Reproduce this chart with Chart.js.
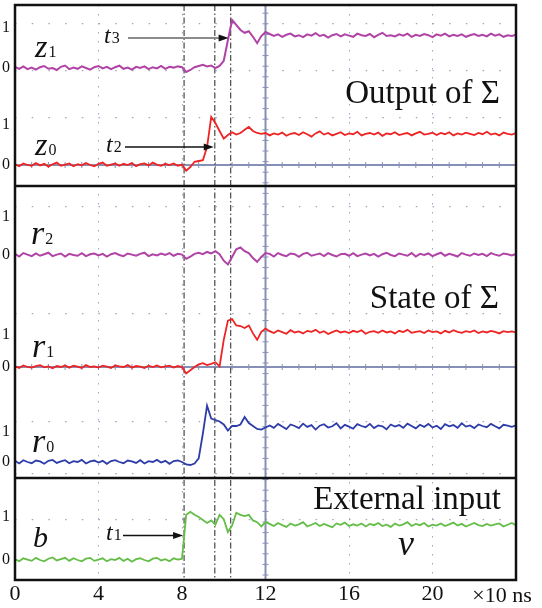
<!DOCTYPE html>
<html>
<head>
<meta charset="utf-8">
<script src="https://cdn.jsdelivr.net/npm/chart.js@4.4.0/dist/chart.umd.min.js"></script>
<style>
  html, body { margin: 0; padding: 0; background: #fff; }
</style>
</head>
<body>
<canvas id="scope" width="542" height="608"></canvas>
<script>
// sample step of the scope traces (x10 ns)
const dt = 0.2;
const xTickVals = [0, 4, 8, 12, 16, 20];
const xUnit = '×10 ns';
// event times t1, t2, t3
const tMarks = [8.1, 9.57, 10.33];
const levelText = ['0', '1'];

// traces, in units of the "1" level
const z1 = [
  0.03,-0.02,0.04,-0.03,0.01,-0.04,0.02,0.05,-0.02,0.00,
  -0.05,0.03,0.06,-0.03,0.01,-0.02,0.04,0.00,-0.04,0.02,
  0.05,-0.01,0.03,-0.03,0.02,0.06,-0.02,0.01,-0.04,0.03,
  0.00,0.04,-0.03,0.02,-0.01,0.05,-0.02,0.03,0.01,0.04,
  0.02,
  -0.10,-0.05,0.02,0.05,0.08,0.04,0.06,0.00,0.05,0.18,
  0.70,1.20,1.08,0.95,0.88,0.92,0.78,0.62,0.80,0.90,
  0.85,0.80,0.84,0.78,0.83,0.86,0.79,0.82,0.77,0.84,
  0.81,0.87,0.80,0.83,0.76,0.82,0.85,0.79,0.84,0.81,
  0.78,0.86,0.82,0.80,0.85,0.77,0.83,0.88,0.80,0.82,
  0.79,0.84,0.81,0.86,0.78,0.83,0.80,0.85,0.82,0.77,
  0.84,0.81,0.86,0.79,0.83,0.80,0.84,0.78,0.82,0.85,
  0.80,0.83,0.79,0.86,0.81,0.84,0.78,0.82,0.80,0.83
];
const z0 = [
  0.02,-0.03,0.04,0.00,-0.02,0.05,-0.01,0.03,-0.04,0.02,
  0.06,-0.02,0.01,0.04,-0.03,0.02,-0.01,0.05,0.00,-0.03,
  0.03,0.06,-0.02,0.01,0.04,-0.02,0.03,0.00,0.05,-0.03,
  0.02,0.04,-0.01,0.06,0.01,-0.02,0.03,0.00,0.04,-0.02,
  0.01,
  -0.14,-0.05,0.08,0.10,0.12,0.45,1.20,1.05,0.85,0.66,
  0.75,0.82,0.76,0.80,0.88,0.95,0.85,0.80,0.78,0.80,
  0.74,0.79,0.76,0.81,0.73,0.78,0.80,0.75,0.82,0.77,
  0.71,0.79,0.84,0.76,0.80,0.74,0.78,0.82,0.75,0.79,
  0.77,0.83,0.74,0.78,0.80,0.76,0.81,0.73,0.79,0.77,
  0.82,0.75,0.78,0.80,0.74,0.79,0.83,0.76,0.78,0.81,
  0.75,0.80,0.77,0.82,0.74,0.79,0.76,0.81,0.78,0.75,
  0.80,0.77,0.83,0.76,0.79,0.74,0.81,0.78,0.76,0.80
];
const r2 = [
  0.03,-0.04,0.05,0.01,-0.03,0.04,-0.02,0.02,0.06,-0.03,
  0.01,0.04,-0.04,0.03,0.00,-0.02,0.05,-0.03,0.02,0.04,
  -0.01,0.03,-0.04,0.02,0.05,0.00,-0.03,0.04,0.01,-0.02,
  0.03,0.06,-0.03,0.02,-0.01,0.04,0.00,0.05,-0.02,0.03,
  0.01,
  -0.10,-0.04,0.03,0.06,0.02,0.08,0.04,0.10,0.02,-0.15,
  -0.25,-0.05,0.15,0.20,0.10,0.05,-0.08,-0.18,-0.05,0.05,
  0.03,-0.04,0.05,0.00,-0.03,0.04,0.02,-0.05,0.03,0.06,
  -0.02,0.01,0.04,-0.03,0.05,0.00,-0.04,0.02,0.03,-0.02,
  0.05,-0.03,0.01,0.04,-0.01,0.03,-0.04,0.02,0.06,0.00,
  -0.03,0.04,0.01,-0.02,0.05,-0.04,0.03,0.00,0.04,-0.03,
  0.02,0.06,-0.02,0.03,0.00,-0.04,0.05,0.01,-0.02,0.04,
  0.00,0.03,-0.03,0.05,0.01,-0.02,0.04,0.02,-0.01,0.03
];
const r1 = [
  0.02,-0.03,0.05,0.00,-0.02,0.03,0.06,-0.01,0.02,-0.04,
  0.03,0.00,0.05,-0.02,0.04,0.01,-0.03,0.06,0.00,0.02,
  -0.02,0.04,0.01,-0.03,0.05,0.02,0.00,0.06,-0.02,0.03,
  0.01,-0.03,0.04,0.00,0.05,-0.01,0.02,0.04,-0.02,0.03,
  0.00,
  -0.20,-0.10,0.00,0.08,0.12,0.06,0.10,0.15,0.02,0.85,
  1.45,1.50,1.30,1.28,1.22,1.30,1.05,0.85,1.10,1.20,
  1.12,1.06,1.14,1.09,1.04,1.15,1.08,1.11,1.05,1.13,
  1.10,1.16,1.07,1.12,1.03,1.09,1.14,1.08,1.11,1.06,
  1.13,1.09,1.15,1.04,1.10,1.12,1.07,1.14,1.08,1.11,
  1.05,1.13,1.09,1.16,1.07,1.10,1.12,1.06,1.14,1.09,
  1.11,1.05,1.13,1.08,1.15,1.10,1.07,1.12,1.09,1.14,
  1.06,1.11,1.08,1.13,1.10,1.05,1.12,1.09,1.11,1.08
];
const r0 = [
  0.04,-0.05,0.06,0.00,-0.04,0.05,0.02,-0.06,0.04,0.07,
  -0.03,0.02,0.06,-0.04,0.03,0.00,0.07,-0.05,0.02,0.05,
  -0.02,0.04,-0.06,0.03,0.06,0.00,-0.04,0.05,0.02,-0.03,
  0.06,-0.05,0.03,0.00,0.07,-0.02,0.04,-0.06,0.03,0.05,
  0.00,
  -0.08,-0.10,-0.05,0.12,0.95,1.88,1.45,1.40,1.35,1.25,
  1.05,1.20,1.20,1.25,1.50,1.30,1.20,1.10,1.08,1.15,
  1.22,1.14,1.27,1.18,1.10,1.25,1.20,1.13,1.28,1.17,
  1.23,1.08,1.21,1.26,1.15,1.19,1.29,1.12,1.24,1.18,
  1.11,1.26,1.20,1.16,1.27,1.13,1.22,1.19,1.09,1.25,
  1.18,1.23,1.14,1.28,1.20,1.12,1.24,1.17,1.27,1.15,
  1.21,1.10,1.26,1.19,1.23,1.14,1.29,1.18,1.22,1.13,
  1.25,1.20,1.16,1.27,1.19,1.12,1.24,1.21,1.17,1.22
];
const b = [
  0.02,-0.03,0.04,0.01,-0.02,0.05,0.00,-0.03,0.03,0.06,
  -0.01,0.02,0.05,-0.02,0.04,0.00,-0.03,0.03,0.05,-0.02,
  0.01,0.04,-0.03,0.02,0.00,0.05,-0.02,0.03,-0.04,0.02,
  0.04,0.00,-0.03,0.03,0.05,-0.01,0.02,-0.03,0.04,0.01,
  0.03,
  1.05,1.12,1.05,1.00,0.93,0.86,0.92,0.82,1.05,0.95,
  0.65,0.80,1.10,1.05,1.02,1.05,0.92,0.88,0.78,0.88,
  0.84,0.79,0.86,0.81,0.77,0.85,0.80,0.83,0.88,0.78,
  0.82,0.86,0.79,0.84,0.80,0.76,0.85,0.82,0.87,0.79,
  0.83,0.80,0.85,0.78,0.84,0.81,0.86,0.79,0.82,0.77,
  0.85,0.80,0.83,0.88,0.79,0.84,0.81,0.86,0.78,0.82,
  0.80,0.85,0.79,0.83,0.87,0.80,0.84,0.78,0.82,0.86,
  0.81,0.79,0.84,0.80,0.83,0.85,0.78,0.82,0.86,0.81
];

// where each trace sits on the screen (y axis is in px above the bottom frame)
const traces = [
  { data: z1, base: 512, gain: 40, color: '#b043a6', width: 2 },
  { data: z0, base: 415, gain: 40, color: '#ee2424', width: 1.8 },
  { data: r2, base: 325, gain: 38, color: '#b043a6', width: 2 },
  { data: r1, base: 213, gain: 32, color: '#ee2424', width: 1.8 },
  { data: r0, base: 118, gain: 30, color: '#2d3ca8', width: 1.8 },
  { data: b,  base: 20,  gain: 43, color: '#63bd46', width: 1.8 }
];
const dividers = [394, 102];
const gridRows = [556, 509, 462, 373, 266, 158, 106, 60];
const crossRows = [415, 213];

const yTickVals = [];
const yTickText = [];
traces.forEach(tr => {
  yTickVals.push(tr.base + tr.gain, tr.base);
  yTickText.push(levelText[1], levelText[0]);
});

const serif = "'Liberation Serif', 'DejaVu Serif', serif";

function line(ctx, x0, y0, x1, y1) {
  ctx.beginPath(); ctx.moveTo(x0, y0); ctx.lineTo(x1, y1); ctx.stroke();
}

// italic variable with upright subscript
function drawVar(ctx, main, sub, x, y, size) {
  ctx.font = 'italic ' + size + 'px ' + serif;
  ctx.fillText(main, x, y);
  const w = ctx.measureText(main).width;
  if (sub) {
    ctx.font = '16px ' + serif;
    ctx.fillText(sub, x + w + 1, y);
  }
}

function arrow(ctx, x0, x1, y, color, width) {
  ctx.strokeStyle = color; ctx.lineWidth = width;
  line(ctx, x0, y, x1 - 7, y);
  ctx.fillStyle = '#111';
  ctx.beginPath();
  ctx.moveTo(x1, y); ctx.lineTo(x1 - 10, y - 3.5); ctx.lineTo(x1 - 10, y + 3.5);
  ctx.closePath(); ctx.fill();
}

const deco = {
  id: 'deco',
  beforeDatasetsDraw(chart) {
    const { ctx, chartArea: a, scales: { x, y } } = chart;
    ctx.save();
    // centre cross of the scope screens
    ctx.strokeStyle = '#8690b6';
    const cx = x.getPixelForValue(12);
    ctx.lineWidth = 2;
    line(ctx, cx, a.top, cx, a.bottom);
    crossRows.forEach(v => {
      const py = y.getPixelForValue(v);
      ctx.lineWidth = 2;
      line(ctx, a.left, py, a.right, py);
      ctx.lineWidth = 1;
      for (let k = 0; k <= 30; k++) {
        const px = x.getPixelForValue(k * 0.8);
        line(ctx, px, py - 3, px, py + 3);
      }
    });
    ctx.lineWidth = 1;
    for (let v = 5; v < 575; v += 10.6) {
      const py = y.getPixelForValue(v);
      line(ctx, cx - 3, py, cx + 3, py);
    }
    // event lines
    ctx.strokeStyle = '#555';
    ctx.lineWidth = 1.3;
    ctx.setLineDash([6, 2.5, 1.5, 2.5]);
    tMarks.forEach(t => {
      const px = x.getPixelForValue(t);
      line(ctx, px, a.top, px, a.bottom);
    });
    ctx.restore();
  },
  afterDraw(chart) {
    const { ctx, chartArea: a, scales: { x, y } } = chart;
    ctx.save();
    // frame and panel dividers
    ctx.strokeStyle = '#111';
    ctx.lineWidth = 2.5;
    ctx.strokeRect(a.left, a.top, a.right - a.left, a.bottom - a.top);
    dividers.forEach(v => {
      const py = y.getPixelForValue(v);
      line(ctx, a.left, py, a.right, py);
    });

    // arrows to t1, t2, t3
    arrow(ctx, 128, x.getPixelForValue(tMarks[2]) - 2, 38, '#8c8c8c', 2);
    arrow(ctx, 125, x.getPixelForValue(tMarks[1]) - 1, 147, '#111', 1.3);
    arrow(ctx, 123, x.getPixelForValue(tMarks[0]) - 1, 535.5, '#111', 1.3);

    ctx.fillStyle = '#111';
    ctx.textBaseline = 'alphabetic';
    ctx.textAlign = 'left';
    drawVar(ctx, 'z', '1', 35, 57, 32);
    drawVar(ctx, 'z', '0', 35, 155, 32);
    drawVar(ctx, 'r', '2', 31, 244, 34);
    drawVar(ctx, 'r', '1', 32, 357, 34);
    drawVar(ctx, 'r', '0', 32, 452, 34);
    drawVar(ctx, 'b', '', 33, 547, 30);
    drawVar(ctx, 't', '3', 104, 43, 24);
    drawVar(ctx, 't', '2', 106, 152, 24);
    drawVar(ctx, 't', '1', 106, 540, 24);
    ctx.font = 'italic 36px ' + serif;
    ctx.fillText('v', 398, 555);

    ctx.textAlign = 'right';
    ctx.font = '33px ' + serif;
    ctx.fillText('Output of Σ', 500, 103);
    ctx.fillText('State of Σ', 499, 308);
    ctx.fillText('External input', 501, 509);

    ctx.font = '22px ' + serif;
    ctx.textAlign = 'center';
    ctx.fillText(xUnit, 502, 602);
    ctx.restore();
  }
};

const datasets = traces.map(tr => ({
  data: tr.data.map((v, i) => ({ x: i * dt, y: tr.base + v * tr.gain })),
  borderColor: tr.color,
  borderWidth: tr.width,
  pointRadius: 0,
  tension: 0,
  fill: false
}));

new Chart(document.getElementById('scope'), {
  type: 'line',
  data: { datasets: datasets },
  options: {
    responsive: false,
    animation: false,
    devicePixelRatio: 1,
    layout: { padding: { left: 0, right: 26, top: 5, bottom: 0 } },
    plugins: { legend: { display: false }, tooltip: { enabled: false } },
    scales: {
      x: {
        type: 'linear', min: 0, max: 24,
        afterBuildTicks: s => { s.ticks = xTickVals.concat([24]).map(v => ({ value: v })); },
        afterFit: s => { s.height = 28; s.paddingLeft = 0; s.paddingRight = 0; },
        ticks: {
          autoSkip: false, maxRotation: 0, padding: 1,
          color: '#111', font: { family: serif, size: 22 },
          callback: v => (xTickVals.includes(v) ? String(v) : '')
        },
        grid: {
          drawTicks: false, lineWidth: 1,
          color: c => (c.tick && (c.tick.value === 0 || c.tick.value === 24) ? 'rgba(0,0,0,0)' : '#9ea6c6')
        },
        border: { display: false, dash: [1.5, 7.5] }
      },
      y: {
        type: 'linear', min: 0, max: 575, position: 'left',
        afterBuildTicks: s => { s.ticks = yTickVals.map(v => ({ value: v })); },
        afterFit: s => { s.width = 15; s.paddingTop = 0; s.paddingBottom = 0; },
        ticks: {
          autoSkip: false, padding: 5, color: '#111',
          font: { family: serif, size: 16 },
          callback: (v, i) => yTickText[i]
        },
        grid: { display: false, drawTicks: false, tickLength: 0 },
        border: { display: false }
      },
      g: {
        type: 'linear', min: 0, max: 575, position: 'right',
        afterBuildTicks: s => { s.ticks = gridRows.map(v => ({ value: v })); },
        afterFit: s => { s.width = 0; s.paddingTop = 0; s.paddingBottom = 0; },
        ticks: { display: false },
        grid: { drawTicks: false, color: '#9ea6c6', lineWidth: 1.3 },
        border: { display: false, dash: [1.5, 15.2] }
      }
    }
  },
  plugins: [deco]
});
</script>
</body>
</html>
